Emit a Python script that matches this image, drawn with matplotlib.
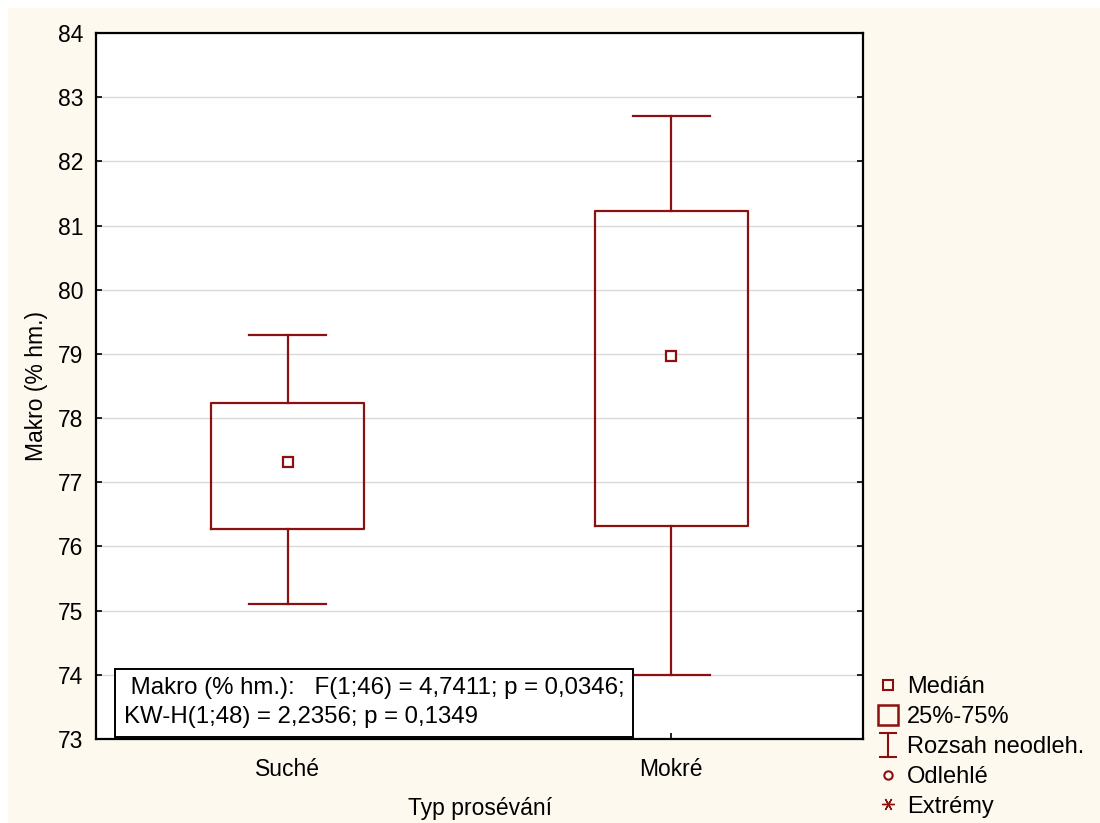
import matplotlib.pyplot as plt
import numpy as np
from matplotlib.lines import Line2D
from matplotlib.path import Path
from matplotlib.patches import Rectangle

plt.rcParams['font.family'] = ['Liberation Sans', 'DejaVu Sans']

# data (odhad z obrazku)
kategorie = ['Suché', 'Mokré']
median = [77.32, 78.97]
q1 = [76.27, 76.32]
q3 = [78.24, 81.23]
whis_lo = [75.10, 74.00]
whis_hi = [79.30, 82.70]
legenda = ['Medián', '25%-75%', 'Rozsah neodleh.', 'Odlehlé', 'Extrémy']
popis = ' Makro (% hm.):   F(1;46) = 4,7411; p = 0,0346;\nKW-H(1;48) = 2,2356; p = 0,1349'

cervena = '#8B1010'
krem = '#FDF9EE'

fig = plt.figure(figsize=(11, 8.23), dpi=100)
fig.patch.set_facecolor(krem)
# bily okraj nahore a vlevo
fig.patches.append(Rectangle((0, 1 - 8/823), 1, 8/823, transform=fig.transFigure,
                             facecolor='white', edgecolor='none', zorder=-5))
fig.patches.append(Rectangle((0, 0), 8/1100, 1, transform=fig.transFigure,
                             facecolor='white', edgecolor='none', zorder=-5))

ax = fig.add_axes([96/1100, 84/823, 767/1100, 706/823])
ax.set_facecolor('white')

pozice = np.arange(1, len(kategorie) + 1)
stats = []
for i in range(len(kategorie)):
    stats.append({'med': median[i], 'q1': q1[i], 'q3': q3[i],
                  'whislo': whis_lo[i], 'whishi': whis_hi[i], 'fliers': []})

ax.bxp(stats, positions=pozice, widths=0.4, capwidths=0.2, showfliers=False,
       boxprops=dict(color=cervena, linewidth=1.6),
       whiskerprops=dict(color=cervena, linewidth=1.6),
       capprops=dict(color=cervena, linewidth=1.6),
       medianprops=dict(linestyle='none'), zorder=3)
ax.plot(pozice, median, 's', mfc='white', mec=cervena, mew=1.6, ms=7, zorder=4)

ax.set_xlim(0.5, 2.5)
ax.set_ylim(73, 84)
ax.set_yticks(np.arange(73, 85, 1))
ax.set_xticks(pozice)
ax.set_xticklabels(kategorie)
ax.yaxis.grid(True, color='#DADADA', linewidth=1)
ax.set_axisbelow(True)
ax.tick_params(axis='y', direction='in', length=4, width=1.2, labelsize=16.5, pad=9,
               right=True)
ax.tick_params(axis='x', direction='in', length=4, width=1.2, labelsize=16.5, pad=14)
for s in ax.spines.values():
    s.set_linewidth(1.6)

ax.set_ylabel('Makro (% hm.)', fontsize=16.5, labelpad=7)
ax.set_xlabel('Typ prosévání', fontsize=16.5, labelpad=11)

ax.text(0.036, 0.015, popis, transform=ax.transAxes, fontsize=17.3,
        va='bottom', ha='left', linespacing=1.42, zorder=5,
        bbox=dict(boxstyle='square,pad=0.36', facecolor='white',
                  edgecolor='black', linewidth=1.4))

# legenda
ibeam = Path([(-0.4, -0.5), (0.4, -0.5), (0, -0.5), (0, 0.5), (-0.4, 0.5), (0.4, 0.5)],
             [Path.MOVETO, Path.LINETO, Path.MOVETO, Path.LINETO, Path.MOVETO, Path.LINETO])
uchyty = [
    Line2D([], [], ls='none', marker='s', mfc='none', mec=cervena, mew=1.5, ms=7),
    Line2D([], [], ls='none', marker='s', mfc='none', mec=cervena, mew=1.8, ms=15),
    Line2D([], [], ls='none', marker=ibeam, mfc='none', mec=cervena, mew=1.5, ms=17),
    Line2D([], [], ls='none', marker='o', mfc='none', mec=cervena, mew=1.5, ms=6),
    Line2D([], [], ls='none', marker=(6, 2, 90), mfc='none', mec=cervena, mew=1, ms=9),
]
fig.legend(uchyty, legenda, loc='upper left', bbox_to_anchor=(866/1100, 1 - 667/823),
           frameon=False, fontsize=17, handlelength=1.1, handletextpad=0.25,
           labelspacing=0.33, borderaxespad=0)

fig.savefig('out.png', dpi=100)
